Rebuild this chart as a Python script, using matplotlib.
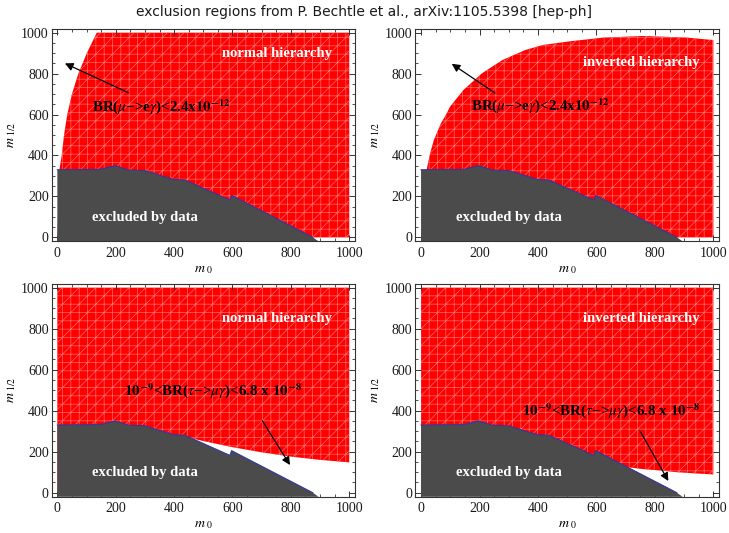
"""Four-panel m0 / m1/2 exclusion plot after Bechtle et al., arXiv:1105.5398."""

import matplotlib

matplotlib.use("Agg")
import matplotlib.pyplot as plt  # noqa: E402
from matplotlib.ticker import MultipleLocator  # noqa: E402

RED, GREY, EDGE, MESH, INK = "#ff0000", "#4b4b4b", "#3535a0", "#ff6a6a", "#1a1a1a"
SERIF = "Liberation Serif"

plt.rcParams.update(
    {
        "font.family": SERIF,
        "font.size": 10,
        "hatch.linewidth": 0.5,
        "mathtext.fontset": "stix",
        "axes.edgecolor": "#333333",
        "axes.linewidth": 0.8,
    }
)

# upper edge of the region excluded by data
EXCL_M0 = [0, 146, 197, 243, 300, 397, 437, 591, 597, 875, 895]
EXCL_M12 = [330, 332, 350, 329, 326, 283, 280, 182, 205, 0, -20]

# BR(mu -> e gamma) < 2.4e-12 contour
MEG_NH_M0 = [7, 15, 23, 34, 50, 72, 101, 135]
MEG_NH_M12 = [330, 400, 500, 600, 700, 800, 900, 1000]
MEG_IH_M0 = [20, 31, 44, 68, 86, 99, 145, 208, 278, 356, 417, 510, 624, 761, 909, 1000]
MEG_IH_M12 = [337, 410, 476, 557, 601, 638, 720, 801, 866, 915, 940, 958, 976, 984, 976, 964]

# BR(tau -> mu gamma) contour
TMG_NH_M0 = [440, 500, 600, 700, 800, 900, 1000]
TMG_NH_M12 = [272, 252, 222, 197, 176, 160, 148]
TMG_IH_M0 = [700, 760, 820, 875, 940, 1000]
TMG_IH_M12 = [125, 115, 108, 100, 94, 89]

MEG_LABEL = "BR($\\mu$\u2212>e$\\gamma$)<2.4x$\\mathbf{10^{-12}}$"
TMG_LABEL = "$\\mathbf{10^{-9}}$<BR($\\tau$\u2212>$\\mu\\gamma$)<6.8 x $\\mathbf{10^{-8}}$"

W, H = 729, 533


def rect(x0, x1, ytop, ybot):
    return [x0 / W, 1 - ybot / H, (x1 - x0) / W, (ybot - ytop) / H]


def frame(ax):
    ax.set_xlim(-20, 1020)
    ax.set_ylim(-20, 1020)
    ax.xaxis.set_major_locator(MultipleLocator(200))
    ax.yaxis.set_major_locator(MultipleLocator(200))
    ax.xaxis.set_minor_locator(MultipleLocator(50))
    ax.yaxis.set_minor_locator(MultipleLocator(50))
    ax.tick_params(which="both", direction="in", top=True, right=True, colors="#333333", labelcolor=INK)
    ax.tick_params(which="major", length=4, width=0.7)
    ax.tick_params(which="minor", length=2, width=0.6)
    ax.tick_params(axis="x", pad=4)
    ax.tick_params(axis="y", pad=2)
    ax.set_xlabel("$m_{\\ 0}$", fontsize=10, labelpad=2)
    ax.set_ylabel("$m_{\\ 1/2}$", fontsize=10, labelpad=2)


def panel(ax, red_x, red_y, hier, hier_y, label, label_xy, tail, head):
    ax.fill(red_x, red_y, facecolor=RED, edgecolor=MESH, lw=0, hatch="++//", zorder=1)
    ax.fill(EXCL_M0 + [0], EXCL_M12 + [-20], facecolor=GREY, lw=0, zorder=2)
    ax.plot(EXCL_M0[:-1], EXCL_M12[:-1], color=EDGE, lw=0.8, zorder=3)
    white = dict(color="white", fontweight="bold", fontsize=10.5, ha="center", va="center", zorder=4)
    ax.text(753, hier_y, hier, **white)
    ax.text(299, 98, "excluded by data", **white)
    ax.text(*label_xy, label, color="black", fontweight="bold", fontsize=10.8, ha="center", va="center", zorder=4)
    ax.annotate(
        "",
        xy=head,
        xytext=tail,
        arrowprops=dict(arrowstyle="-|>", color="black", lw=0.9, mutation_scale=12, shrinkA=0, shrinkB=0),
        zorder=5,
    )
    frame(ax)


def main():
    fig = plt.figure(figsize=(W / 100, H / 100), dpi=100)
    ax_tl = fig.add_axes(rect(51.5, 355.1, 28.6, 241.4))
    ax_tr = fig.add_axes(rect(415.2, 719.2, 28.6, 241.4))
    ax_bl = fig.add_axes(rect(51.5, 355.1, 283.6, 496.8))
    ax_br = fig.add_axes(rect(415.2, 719.2, 283.6, 496.8))

    panel(
        ax_tl,
        [0] + MEG_NH_M0 + [1000, 1000],
        [0] + MEG_NH_M12 + [1000, 0],
        "normal hierarchy",
        899,
        MEG_LABEL,
        (357, 640),
        (243, 707),
        (26, 850),
    )
    panel(
        ax_tr,
        [0] + MEG_IH_M0 + [1000],
        [0] + MEG_IH_M12 + [0],
        "inverted hierarchy",
        853,
        MEG_LABEL,
        (407, 645),
        (253, 705),
        (105, 848),
    )
    panel(
        ax_bl,
        [0] + TMG_NH_M0 + [1000, 0],
        [0] + TMG_NH_M12 + [1000, 1000],
        "normal hierarchy",
        850,
        TMG_LABEL,
        (534, 496),
        (702, 351),
        (797, 135),
    )
    panel(
        ax_br,
        [0] + TMG_IH_M0 + [1000, 0],
        [0] + TMG_IH_M12 + [1000, 1000],
        "inverted hierarchy",
        850,
        TMG_LABEL,
        (649, 400),
        (749, 302),
        (846, 57),
    )

    fig.text(
        0.5,
        1 - 12 / H,
        "exclusion regions from P. Bechtle et al., arXiv:1105.5398 [hep-ph]",
        family="DejaVu Sans",
        fontsize=10,
        ha="center",
        va="center",
        color=INK,
    )
    fig.savefig("out.png", dpi=100)


if __name__ == "__main__":
    main()
